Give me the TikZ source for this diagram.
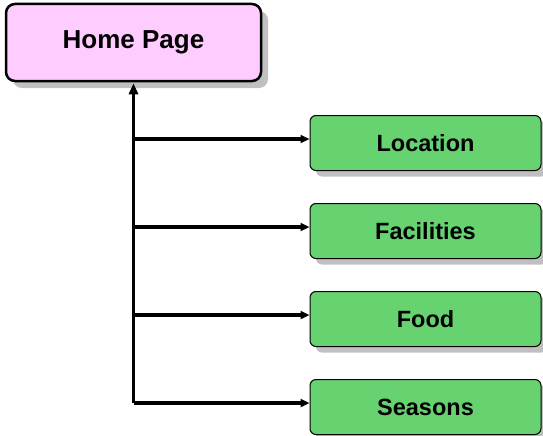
\documentclass[tikz,border=0pt]{standalone}
\usepackage{fontspec}
\setmainfont{Liberation Sans}
\usetikzlibrary{arrows.meta,shadows}
\definecolor{pagepink}{RGB}{255,204,255}
\definecolor{pagegreen}{RGB}{102,210,112}
\definecolor{shadowgray}{RGB}{192,192,192}
\definecolor{tipgray}{RGB}{64,64,64}
\tikzset{
  homebox/.style={draw, line width=2.5pt, fill=pagepink, rounded corners=9pt,
    minimum width=255pt, minimum height=77pt, font=\fontsize{26}{30}\selectfont\bfseries,
    drop shadow={shadow xshift=7pt, shadow yshift=-7pt, fill=shadowgray, opacity=1}},
  subbox/.style={draw, line width=1pt, fill=pagegreen, rounded corners=6pt,
    minimum width=231pt, minimum height=55pt, font=\fontsize{23.5}{28}\selectfont\bfseries,
    drop shadow={shadow xshift=6pt, shadow yshift=-6pt, fill=shadowgray, opacity=1}},
  link/.style={line width=3.2pt, -{Triangle[length=9pt,width=8pt]}}
}
\begin{document}
\begin{tikzpicture}[x=1pt, y=-1pt]
  \useasboundingbox (0,0) rectangle (543,436);
  \node[homebox] (home) at (133.5,42.5) {Home Page};
  \node[subbox] (loc)  at (425.5,143) {Location};
  \node[subbox] (fac)  at (425.5,231) {Facilities};
  \node[subbox] (food) at (425.5,319) {Food};
  \node[subbox] (seas) at (425.5,407) {Seasons};
  \coordinate (bottom) at (home.south |- 0,403);
  \draw [line width=3.2pt, -{Triangle[length=11pt,width=9pt,fill=tipgray]}] (bottom) -- ([yshift=-1pt]home.south);
  \draw [link] (bottom) -- ([yshift=4pt]seas.west);
  \draw [link] (home.south |- 0,315) -- ([yshift=4pt]food.west);
  \draw [link] (home.south |- 0,227) -- ([yshift=4pt]fac.west);
  \draw [link] (home.south |- 0,139) -- ([yshift=4pt]loc.west);
\end{tikzpicture}
\end{document}
